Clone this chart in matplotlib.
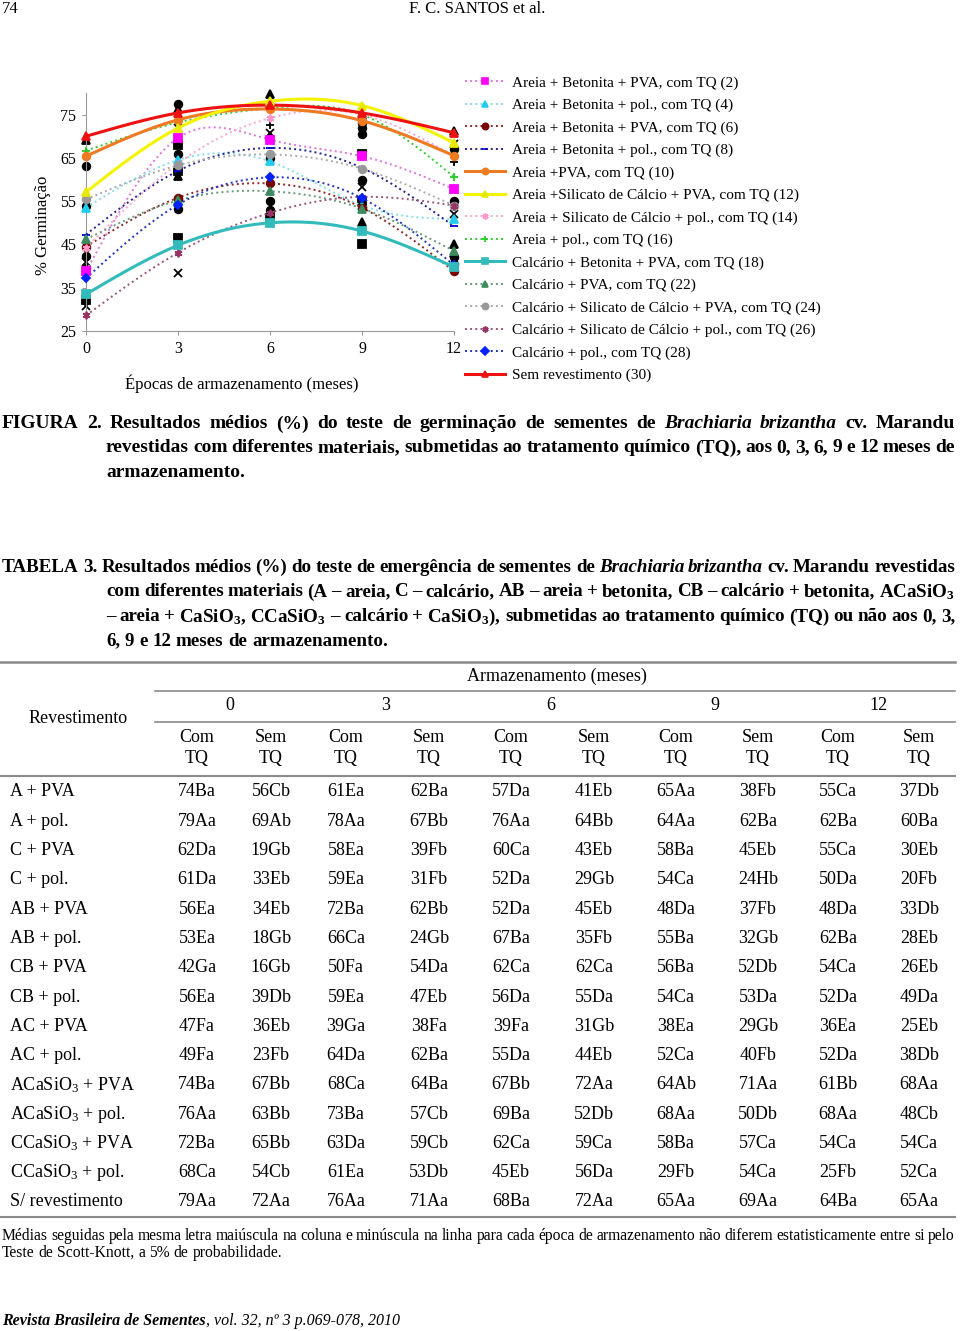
import matplotlib
matplotlib.use("Agg")
import matplotlib.pyplot as plt
from matplotlib.lines import Line2D
import numpy as np

plt.rcParams['font.family'] = ['Liberation Serif', 'DejaVu Serif']
plt.rcParams['mathtext.fontset'] = 'custom'
plt.rcParams['mathtext.rm'] = 'Liberation Serif'
plt.rcParams['mathtext.it'] = 'Liberation Serif:italic'
plt.rcParams['mathtext.bf'] = 'Liberation Serif:bold'

W, H = 960, 1331

# ---- figure 2 data ----
months = [0, 3, 6, 9, 12]
s02 = [38.8, 69.6, 69.2, 65.4, 57.8]
s04 = [53.5, 64.5, 64.2, 54.0, 50.8]
s06 = [44.5, 55.8, 59.1, 53.5, 38.8]
s08 = [47.3, 62.0, 67.3, 62.7, 49.2]
s10 = [65.4, 73.8, 76.3, 73.6, 65.5]
s12 = [57.1, 71.9, 78.1, 77.1, 68.5]
s14 = [44.2, 63.7, 74.2, 75.0, 65.5]
s16 = [66.7, 73.2, 76.5, 75.0, 60.6]
s18 = [33.5, 44.8, 50.0, 48.1, 39.8]
s22 = [46.2, 55.2, 57.3, 53.3, 43.5]
s24 = [55.4, 63.3, 65.8, 62.5, 54.0]
s26 = [28.6, 43.1, 52.3, 56.0, 54.0]
s28 = [37.2, 54.2, 60.5, 55.7, 40.2]
s30 = [70.0, 75.4, 77.2, 75.4, 70.8]

labels = ["Areia + Betonita + PVA, com TQ (2)",
          "Areia + Betonita + pol., com TQ (4)",
          "Areia + Betonita + PVA, com TQ (6)",
          "Areia + Betonita + pol., com TQ (8)",
          "Areia +PVA, com TQ (10)",
          "Areia +Silicato de Cálcio + PVA, com TQ (12)",
          "Areia + Silicato de Cálcio + pol., com TQ (14)",
          "Areia + pol., com TQ (16)",
          "Calcário + Betonita + PVA, com TQ (18)",
          "Calcário + PVA, com TQ (22)",
          "Calcário + Silicato de Cálcio + PVA, com TQ (24)",
          "Calcário + Silicato de Cálcio + pol., com TQ (26)",
          "Calcário + pol., com TQ (28)",
          "Sem revestimento (30)"]

# observed means (black markers)
obs_months = [0, 0, 0, 0, 0, 0, 0, 0,
              3, 3, 3, 3, 3, 3, 3, 3, 3, 3, 3,
              6, 6, 6, 6, 6, 6, 6, 6, 6, 6,
              9, 9, 9, 9, 9, 9, 9, 9, 9, 9, 9,
              12, 12, 12, 12, 12, 12, 12, 12, 12, 12]
obs_values = [63.2, 54.0, 42.3, 39.6, 41.0, 32.2, 30.8, 69.2,
              77.5, 76.3, 71.8, 68.0, 65.8, 62.0, 60.8, 53.2, 46.5, 38.5, 55.5,
              79.8, 77.5, 72.7, 70.8, 70.0, 65.0, 55.0, 53.0, 51.2, 51.0,
              75.0, 73.0, 72.0, 70.6, 66.0, 60.0, 58.3, 55.0, 50.3, 49.5, 45.0,
              71.2, 68.2, 67.0, 64.0, 55.0, 52.0, 45.0, 43.0, 42.0, 40.5]
obs_marks = ['o', 'o', 'o', 'o', 'x', 's', 'x', '^',
             'o', '^', 'x', 's', 'o', 's', '^', 'o', 's', 'x', 'o',
             '^', '^', '+', 'x', '^', 'o', 'o', 'o', 'x', 's',
             '^', 'o', 'o', 'o', 's', 'o', 'x', 's', '^', '^', 's',
             '^', 'x', 'o', '+', 'o', 'x', '^', '^', 'o', 'o']

# ---- table 3 data ----
table_rows = ["A + PVA", "A + pol.", "C + PVA", "C + pol.", "AB + PVA", "AB + pol.",
              "CB + PVA", "CB + pol.", "AC + PVA", "AC + pol.",
              r"ACaSiO$_\mathrm{3}$ + PVA", r"ACaSiO$_\mathrm{3}$ + pol.",
              r"CCaSiO$_\mathrm{3}$ + PVA", r"CCaSiO$_\mathrm{3}$ + pol.", "S/ revestimento"]
table_cells = [
    ["74Ba", "56Cb", "61Ea", "62Ba", "57Da", "41Eb", "65Aa", "38Fb", "55Ca", "37Db"],
    ["79Aa", "69Ab", "78Aa", "67Bb", "76Aa", "64Bb", "64Aa", "62Ba", "62Ba", "60Ba"],
    ["62Da", "19Gb", "58Ea", "39Fb", "60Ca", "43Eb", "58Ba", "45Eb", "55Ca", "30Eb"],
    ["61Da", "33Eb", "59Ea", "31Fb", "52Da", "29Gb", "54Ca", "24Hb", "50Da", "20Fb"],
    ["56Ea", "34Eb", "72Ba", "62Bb", "52Da", "45Eb", "48Da", "37Fb", "48Da", "33Db"],
    ["53Ea", "18Gb", "66Ca", "24Gb", "67Ba", "35Fb", "55Ba", "32Gb", "62Ba", "28Eb"],
    ["42Ga", "16Gb", "50Fa", "54Da", "62Ca", "62Ca", "56Ba", "52Db", "54Ca", "26Eb"],
    ["56Ea", "39Db", "59Ea", "47Eb", "56Da", "55Da", "54Ca", "53Da", "52Da", "49Da"],
    ["47Fa", "36Eb", "39Ga", "38Fa", "39Fa", "31Gb", "38Ea", "29Gb", "36Ea", "25Eb"],
    ["49Fa", "23Fb", "64Da", "62Ba", "55Da", "44Eb", "52Ca", "40Fb", "52Da", "38Db"],
    ["74Ba", "67Bb", "68Ca", "64Ba", "67Bb", "72Aa", "64Ab", "71Aa", "61Bb", "68Aa"],
    ["76Aa", "63Bb", "73Ba", "57Cb", "69Ba", "52Db", "68Aa", "50Db", "68Aa", "48Cb"],
    ["72Ba", "65Bb", "63Da", "59Cb", "62Ca", "59Ca", "58Ba", "57Ca", "54Ca", "54Ca"],
    ["68Ca", "54Cb", "61Ea", "53Db", "45Eb", "56Da", "29Fb", "54Ca", "25Fb", "52Ca"],
    ["79Aa", "72Aa", "76Aa", "71Aa", "68Ba", "72Aa", "65Aa", "69Aa", "64Ba", "65Aa"],
]
table_months = ["0", "3", "6", "9", "12"]


def fx(x):
    return x / W


def fy(y):
    return 1 - y / H


def smooth(x, y, n=200):
    # natural cubic spline, like the smoothed lines of the original
    x = np.asarray(x, float)
    y = np.asarray(y, float)
    k = len(x)
    h = np.diff(x)
    A = np.zeros((k, k))
    r = np.zeros(k)
    A[0, 0] = A[-1, -1] = 1
    for i in range(1, k - 1):
        A[i, i - 1] = h[i - 1]
        A[i, i] = 2 * (h[i - 1] + h[i])
        A[i, i + 1] = h[i]
        r[i] = 3 * ((y[i + 1] - y[i]) / h[i] - (y[i] - y[i - 1]) / h[i - 1])
    c = np.linalg.solve(A, r)
    b = np.diff(y) / h - h * (2 * c[:-1] + c[1:]) / 3
    d = np.diff(c) / (3 * h)
    xs = np.linspace(x[0], x[-1], n)
    idx = np.clip(np.searchsorted(x, xs) - 1, 0, k - 2)
    dx = xs - x[idx]
    return xs, y[idx] + b[idx] * dx + c[idx] * dx ** 2 + d[idx] * dx ** 3


fig = plt.figure(figsize=(W / 100, H / 100), dpi=100)
renderer = fig.canvas.get_renderer()

# header
fig.text(fx(2), fy(9), "74", fontsize=12, va='center')
fig.text(fx(477), fy(9), "F. C. SANTOS et al.", fontsize=12, va='center', ha='center')

# ---- chart ----
ax = fig.add_axes([fx(86), fy(331), 368 / W, 238 / H])
ax.set_xlim(0, 12)
ax.set_ylim(25, 80)
for sp in ['top', 'right']:
    ax.spines[sp].set_visible(False)
for sp in ['left', 'bottom']:
    ax.spines[sp].set_color('#9a9a9a')
ax.set_yticks([25, 35, 45, 55, 65, 75])
ax.set_xticks(months)
ax.tick_params(labelsize=11.5, length=3, color='#9a9a9a', pad=4)

for m, v, mk in zip(obs_months, obs_values, obs_marks):
    ax.plot(m, v, marker=mk, color='black', ms=5.5, mew=1.3, ls='none', zorder=2, clip_on=False)

series = [s02, s04, s06, s08, s10, s12, s14, s16, s18, s22, s24, s26, s28, s30]
line_cols = ['#dd77dd', '#88dde8', '#8b2a2a', '#22228b', '#ee7a22', '#f4f400', '#f6a8cf',
             '#33cc33', '#33bbbb', '#66997a', '#aaaaaa', '#99557a', '#2233bb', '#ee1111']
mark_cols = ['#ff00ff', '#22ccee', '#7a0000', '#0000cc', '#ee7a22', '#e8e800', '#ff99cc',
             '#22cc22', '#33bbbb', '#3d8a5f', '#999999', '#993366', '#0022ff', '#ee1111']
marks = ['s', '^', 'o', '_', 'o', '^', (6, 2, 0), '+', 's', '^', 'o', (6, 2, 0), 'D', '^']
solid = [False, False, False, False, True, True, False, False, True, False, False, False, False, True]

handles = []
for vals, lc, mc, mk, so in zip(series, line_cols, mark_cols, marks, solid):
    xs, ys = smooth(months, vals)
    ls = '-' if so else ':'
    lw = 2.2 if so else 1.4
    z = 4 if so else 3
    ax.plot(xs, ys, color=lc, lw=lw, ls=ls, zorder=z, clip_on=False)
    ax.plot(months, vals, ls='none', marker=mk, color=mc, ms=5.5 if mk != 'D' else 4.5,
            mew=1.3, zorder=z + 0.5, clip_on=False)
    handles.append(Line2D([], [], color=lc, lw=lw, ls=ls, marker=mk, markerfacecolor=mc,
                          markeredgecolor=mc, ms=4.5, mew=1.2))

fig.legend(handles=handles, labels=labels, loc='upper left',
           bbox_to_anchor=(fx(465), fy(76)), frameon=False, fontsize=11,
           handlelength=2.6, handletextpad=0.45, labelspacing=0.565, borderpad=0,
           borderaxespad=0)

fig.text(fx(43), fy(225), "% Germinação", rotation=90, fontsize=12, ha='center', va='center')
fig.text(fx(242), fy(384), "Épocas de armazenamento (meses)", fontsize=12, ha='center', va='center')


# ---- justified paragraphs ----
ITALIC = {"Brachiaria", "brizantha"}


def word_widths(line, size, weight):
    out = []
    for w in line.split(' '):
        st = 'italic' if w in ITALIC else 'normal'
        t = fig.text(0, 0, w, fontsize=size, weight=weight, style=st)
        out.append(t.get_window_extent(renderer).width)
        t.remove()
    return out


def paragraph(lines, size, weight='normal'):
    # lines: (text, x0, x1, y, justify); one font size for the whole paragraph
    for text, x0, x1, y, just in lines:
        if not just:
            continue
        n = len(text.split(' '))
        while True:
            ws = word_widths(text, size, weight)
            space = size * 100 / 72 * 0.25
            if sum(ws) + (n - 1) * space * 0.8 <= x1 - x0:
                break
            size *= 0.98
    space = size * 100 / 72 * 0.25
    for text, x0, x1, y, just in lines:
        words = text.split(' ')
        ws = word_widths(text, size, weight)
        gap = (x1 - x0 - sum(ws)) / (len(words) - 1) if just and len(words) > 1 else space
        x = x0
        for w, wd in zip(words, ws):
            st = 'italic' if w in ITALIC else 'normal'
            fig.text(fx(x), fy(y), w, fontsize=size, weight=weight, style=st, va='center', ha='left')
            x += wd + gap


paragraph([("FIGURA 2. Resultados médios (%) do teste de germinação de sementes de Brachiaria brizantha cv. Marandu",
            2, 955, 424, True),
           ("revestidas com diferentes materiais, submetidas ao tratamento químico (TQ), aos 0, 3, 6, 9 e 12 meses de",
            106, 955, 448, True),
           ("armazenamento.", 106, 955, 473, False)], 14, 'bold')

paragraph([("TABELA 3. Resultados médios (%) do teste de emergência de sementes de Brachiaria brizantha cv. Marandu revestidas",
            2, 955, 567, True),
           (r"com diferentes materiais (A – areia, C – calcário, AB – areia + betonita, CB – calcário + betonita, ACaSiO$_\mathbf{3}$",
            106, 955, 592, True),
           (r"– areia + CaSiO$_\mathbf{3}$, CCaSiO$_\mathbf{3}$ – calcário + CaSiO$_\mathbf{3}$), submetidas ao tratamento químico (TQ) ou não aos 0, 3,",
            106, 955, 617, True),
           ("6, 9 e 12 meses de armazenamento.", 106, 955, 641, False)], 14, 'bold')

# ---- table ----
def hrule(y, x0, x1, lw=1.2, col='#8a8a8a'):
    fig.add_artist(Line2D([fx(x0), fx(x1)], [fy(y), fy(y)], color=col, lw=lw))


hrule(662, 0, 955, lw=1.8)
hrule(691, 155, 955)
hrule(722, 155, 955)
hrule(776, 0, 955, lw=1.5)
hrule(1217, 0, 955, lw=1.5)

col_x = [197, 271, 346, 429, 511, 594, 676, 758, 838, 919]
month_x = [230, 386, 551, 715, 878]
tsize = 13

fig.text(fx(557), fy(676), "Armazenamento (meses)", fontsize=tsize, ha='center', va='center')
fig.text(fx(78), fy(719), "Revestimento", fontsize=tsize, ha='center', va='center')
for mx, m in zip(month_x, table_months):
    fig.text(fx(mx), fy(706), m, fontsize=tsize, ha='center', va='center')
for i, cx in enumerate(col_x):
    top = "Com" if i % 2 == 0 else "Sem"
    fig.text(fx(cx), fy(737), top, fontsize=tsize, ha='center', va='center')
    fig.text(fx(cx), fy(759), "TQ", fontsize=tsize, ha='center', va='center')

row_y = np.linspace(792, 1202, len(table_rows))
for ry, name, cells in zip(row_y, table_rows, table_cells):
    fig.text(fx(10), fy(ry), name, fontsize=tsize, ha='left', va='center')
    for cx, c in zip(col_x, cells):
        fig.text(fx(cx), fy(ry), c, fontsize=tsize, ha='center', va='center')

paragraph([("Médias seguidas pela mesma letra maiúscula na coluna e minúscula na linha para cada época de armazenamento não diferem estatisticamente entre si pelo",
            2, 955, 1236, True),
           ("Teste de Scott-Knott, a 5% de probabilidade.", 2, 955, 1253, False)], 11.5)

t1 = fig.text(fx(2), fy(1321), "Revista Brasileira de Sementes", fontsize=11.5, style='italic',
              weight='bold', va='center')
w1 = t1.get_window_extent(renderer).width
fig.text(fx(2 + w1), fy(1321), ", vol. 32, nº 3 p.069-078, 2010", fontsize=11.5, style='italic',
         va='center')

fig.savefig("out.png", dpi=100)
